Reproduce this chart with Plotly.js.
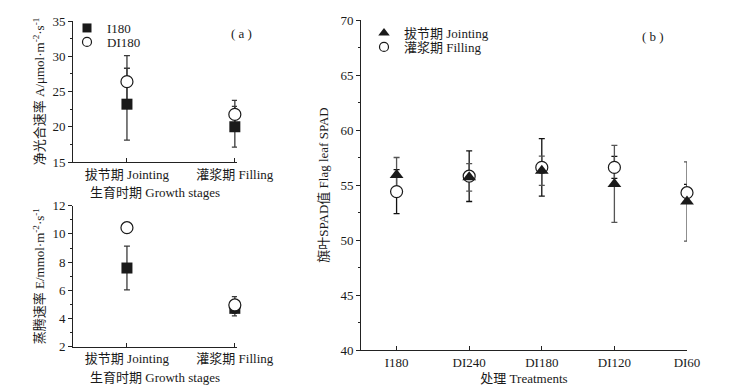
<!DOCTYPE html>
<html><head><meta charset="utf-8">
<script src="https://cdn.plot.ly/plotly-3.0.1.min.js"></script>
<style>html,body{margin:0;padding:0;background:#fff}</style>
</head><body><div id="chart" style="width:737px;height:391px"></div>
<script>
// ---- data ----
const stages = ['拔节期 Jointing', '灌浆期 Filling'];
const A_I180 = [23.2, 20.0];
const A_I180_err = [5.1, 2.9];
const A_DI180 = [26.4, 21.75];
const A_DI180_err = [3.7, 2.0];
const E_I180 = [7.58, 4.72];
const E_I180_err = [1.55, 0.54];
const E_DI180 = [10.44, 4.96];
const E_DI180_err = [0, 0.59];
const treatments = ['I180', 'DI240', 'DI180', 'DI120', 'DI60'];
const SPAD_Jointing = [55.9, 55.7, 56.3, 55.1, 53.5];
const SPAD_Jointing_err = [1.6, 1.25, 1.33, 3.5, 3.6];
const SPAD_Filling = [54.4, 55.8, 56.6, 56.6, 54.3];
const SPAD_Filling_err = [2.0, 2.3, 2.62, 1.0, 0.75];

// ---- helpers ----
const W = 737, H = 391;
const px = x => x / W;
const py = y => 1 - y / H;
const FAM = "'Liberation Serif','Noto Sans CJK SC',serif";
const font = {family: FAM, size: 13, color: '#1a1a1a'};
const errColor = '#3a3a3a';
const ink = '#1a1a1a';

function errTrace(x, y, err, xa, ya, col) {
  return {type: 'scatter', mode: 'markers', x: x, y: y, xaxis: xa, yaxis: ya,
    marker: {color: 'rgba(0,0,0,0)', size: 1}, cliponaxis: false,
    error_y: {type: 'data', array: err, visible: true, color: col || errColor, thickness: 1.3, width: 3},
    showlegend: false, hoverinfo: 'skip'};
}
function mk(kind, size) {
  if (kind === 'square') return {symbol: 'square', size: size, color: ink};
  if (kind === 'tri') return {symbol: 'triangle-up', size: size, color: ink};
  return {symbol: 'circle', size: size, color: '#fff', line: {color: ink, width: 1.2}};
}
function markTrace(name, x, y, kind, xa, ya) {
  return {type: 'scatter', mode: 'markers', name: name, x: x, y: y, xaxis: xa, yaxis: ya,
    marker: mk(kind, kind === 'square' ? 11 : 12), cliponaxis: false, showlegend: false};
}
function legTrace(name, kind, xa, ya, legend) {
  return {type: 'scatter', mode: 'markers', name: name, x: [null], y: [null], xaxis: xa, yaxis: ya,
    marker: mk(kind, kind === 'tri' ? 10 : 9), showlegend: true, legend: legend};
}

const traces = [
  errTrace(stages, A_DI180, A_DI180_err, 'x', 'y'),
  errTrace(stages, A_I180, A_I180_err, 'x', 'y'),
  markTrace('I180', stages, A_I180, 'square', 'x', 'y'),
  markTrace('DI180', stages, A_DI180, 'circle', 'x', 'y'),
  errTrace(stages, E_DI180, E_DI180_err, 'x2', 'y2'),
  errTrace(stages, E_I180, E_I180_err, 'x2', 'y2'),
  markTrace('I180', stages, E_I180, 'square', 'x2', 'y2'),
  markTrace('DI180', stages, E_DI180, 'circle', 'x2', 'y2'),
  errTrace(treatments, SPAD_Filling, SPAD_Filling_err, 'x3', 'y3', '#111'),
  errTrace(treatments, SPAD_Jointing, SPAD_Jointing_err, 'x3', 'y3', '#555'),
  markTrace('灌浆期 Filling', treatments, SPAD_Filling, 'circle', 'x3', 'y3'),
  markTrace('拔节期 Jointing', treatments, SPAD_Jointing, 'tri', 'x3', 'y3'),
  legTrace('I180', 'square', 'x', 'y', 'legend'),
  legTrace('DI180', 'circle', 'x', 'y', 'legend3'),
  legTrace('拔节期 Jointing', 'tri', 'x3', 'y3', 'legend2'),
  legTrace('灌浆期 Filling', 'circle', 'x3', 'y3', 'legend4')
];

function xax(dom, anchor, range, title, standoff) {
  return {domain: dom, anchor: anchor, type: 'category', range: range,
    showline: true, linecolor: '#222', linewidth: 1, ticks: 'inside', ticklen: 4, tickcolor: '#222',
    showgrid: false, zeroline: false, tickfont: font,
    title: {text: title, font: font, standoff: standoff}};
}
function yax(dom, anchor, range, dtick, minor, title, standoff) {
  return {domain: dom, anchor: anchor, range: range, dtick: dtick,
    showline: true, linecolor: '#222', linewidth: 1, ticks: 'outside', ticklen: 4, tickcolor: '#222',
    minor: {ticks: 'outside', ticklen: 2, dtick: minor, tickcolor: '#222', showgrid: false},
    showgrid: false, zeroline: false, tickfont: font,
    title: {text: title, font: font, standoff: standoff}};
}
function leg(x, rowY) {
  return {x: px(x), y: py(rowY - 15), xanchor: 'left', yanchor: 'top', bgcolor: 'rgba(0,0,0,0)',
    font: font, tracegroupgap: 0, itemwidth: 30};
}

const layout = {
  width: W, height: H, margin: {l: 0, r: 0, t: 0, b: 0},
  paper_bgcolor: '#fff', plot_bgcolor: '#fff', font: font,
  xaxis: xax([px(73), px(237)], 'y', [-0.5, 1.02], '生育时期 Growth stages', 7),
  yaxis: yax([py(162), py(21)], 'x', [15, 35], 5, 2.5, '净光合速率 A/μmol·m<sup>-2</sup>·s<sup>-1</sup>', 4),
  xaxis2: xax([px(73), px(237)], 'y2', [-0.5, 1.02], '生育时期 Growth stages', 7),
  yaxis2: yax([py(346.7), py(205.7)], 'x2', [2, 12], 2, 1, '蒸腾速率 E/mmol·m<sup>-2</sup>·s<sup>-1</sup>', 4),
  xaxis3: xax([px(361), px(687)], 'y3', [-0.49, 4.0], '处理 Treatments', 5),
  yaxis3: yax([py(350), py(20)], 'x3', [40, 70], 5, 2.5, '旗叶SPAD值 Flag leaf SPAD', 8),
  legend: leg(67, 28),
  legend3: leg(67, 42),
  legend2: leg(364, 33),
  legend4: leg(364, 47),
  annotations: [
    {text: '( a )', x: px(241), y: py(33), xref: 'paper', yref: 'paper', xanchor: 'center', yanchor: 'middle', showarrow: false, font: font},
    {text: '( b )', x: px(653), y: py(37), xref: 'paper', yref: 'paper', xanchor: 'center', yanchor: 'middle', showarrow: false, font: font}
  ]
};

Plotly.newPlot('chart', traces, layout, {displayModeBar: false, staticPlot: true});
</script></body></html>
